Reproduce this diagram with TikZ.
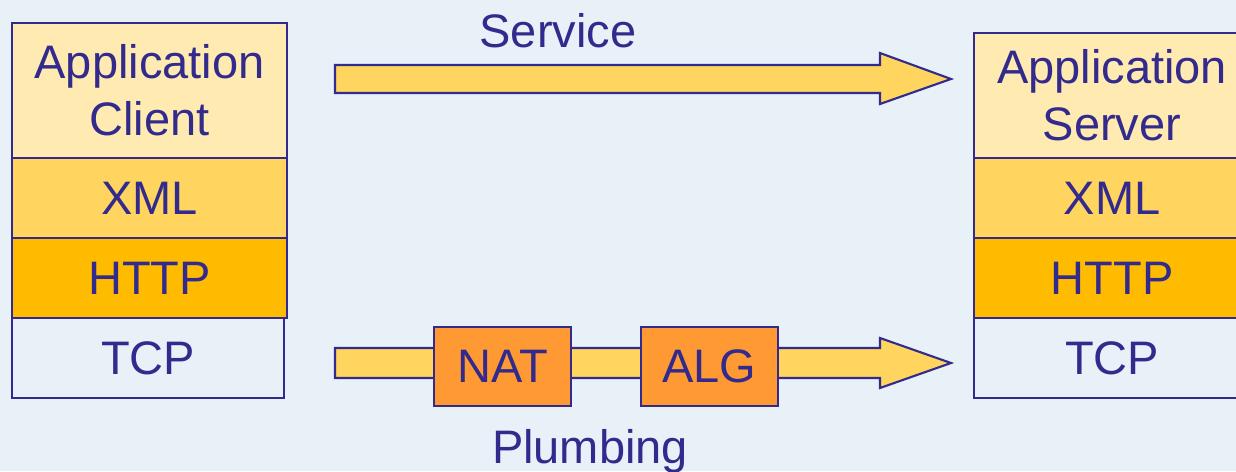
\documentclass[tikz,border=0pt]{standalone}
\usepackage{fontspec}
\setmainfont{Liberation Sans}
\usetikzlibrary{calc}
\definecolor{bg}{RGB}{232,240,248}
\definecolor{ink}{RGB}{50,42,140}
\definecolor{appc}{RGB}{255,235,178}
\definecolor{xmlc}{RGB}{255,212,95}
\definecolor{httpc}{RGB}{255,187,0}
\definecolor{boxc}{RGB}{255,153,51}
\begin{document}
\begin{tikzpicture}[x=1pt,y=-1pt,
  every node/.style={text=ink, font=\fontsize{47}{57}\selectfont},
  layer/.style={draw=ink, line width=2.1pt, rectangle, inner sep=0pt, anchor=north west, align=center},
  midbox/.style={draw=ink, line width=2.1pt, rectangle, inner sep=0pt, fill=boxc, minimum width=137pt, minimum height=79pt},
  blockarrow/.style={draw=ink, line width=2.1pt, fill=xmlc, line join=miter}]
\useasboundingbox (0,0) rectangle (1236,471);
\clip (0,0) rectangle (1236,471);
\fill[bg] (0,0) rectangle (1236,471);

% left stack
\node[layer, fill=appc, minimum width=275pt, minimum height=135pt] (lapp) at (11,22) {Application\\Client};
\node[layer, fill=xmlc, minimum width=275pt, minimum height=80pt] (lxml) at (11,157) {XML};
\node[layer, fill=httpc, minimum width=275pt, minimum height=80pt] (lhttp) at (11,237) {HTTP};
\node[layer, fill=bg, minimum width=272pt, minimum height=80pt] (ltcp) at (11,317) {TCP};

% right stack
\node[layer, fill=appc, minimum width=276pt, minimum height=125pt] (rapp) at (973,32) {Application\\Server};
\node[layer, fill=xmlc, minimum width=276pt, minimum height=80pt] (rxml) at (973,157) {XML};
\node[layer, fill=httpc, minimum width=276pt, minimum height=80pt] (rhttp) at (973,237) {HTTP};
\node[layer, fill=bg, minimum width=276pt, minimum height=80pt] (rtcp) at (973,317) {TCP};

% service arrow
\coordinate (s0) at (335,79);
\coordinate (s1) at (951,79);
\draw[blockarrow] ($(s0)+(0,-14)$) -- ($(s1)+(-71,-14)$) -- ($(s1)+(-71,-26)$) -- (s1)
  -- ($(s1)+(-71,25)$) -- ($(s1)+(-71,14)$) -- ($(s0)+(0,14)$) -- cycle;
\node[anchor=base] (service) at (558,47) {Service};

% plumbing arrow
\coordinate (p0) at (335,363);
\coordinate (p1) at (951,363);
\draw[blockarrow] ($(p0)+(0,-15)$) -- ($(p1)+(-71,-15)$) -- ($(p1)+(-71,-25)$) -- (p1)
  -- ($(p1)+(-71,25)$) -- ($(p1)+(-71,15)$) -- ($(p0)+(0,15)$) -- cycle;
\node[midbox] (nat) at (502.5,366.5) {NAT};
\node[midbox] (alg) at (709.5,366.5) {ALG};
\node[anchor=base] (plumbing) at (590,463) {Plumbing};
\end{tikzpicture}
\end{document}
